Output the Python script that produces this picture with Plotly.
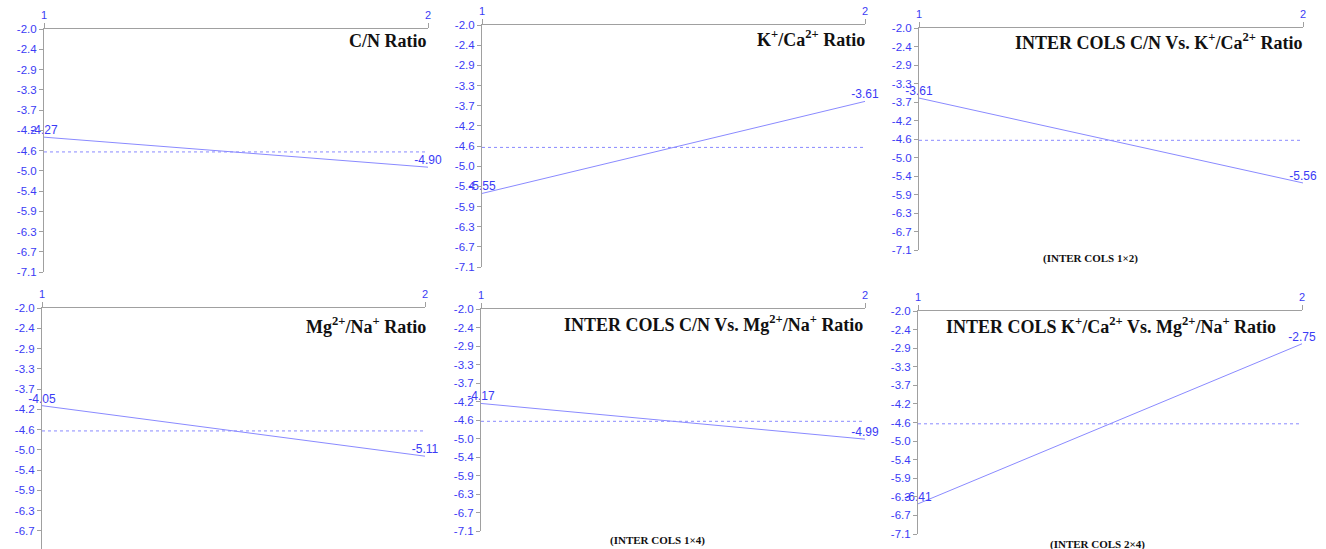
import numpy as np
import plotly.graph_objects as go

# ---------------- data ----------------
levels = [1, 2]
panel_titles = [
    "C/N Ratio",
    "K<sup>+</sup>/Ca<sup>2+</sup> Ratio",
    "INTER COLS C/N Vs. K<sup>+</sup>/Ca<sup>2+</sup> Ratio",
    "Mg<sup>2+</sup>/Na<sup>+</sup> Ratio",
    "INTER COLS C/N Vs. Mg<sup>2+</sup>/Na<sup>+</sup> Ratio",
    "INTER COLS K<sup>+</sup>/Ca<sup>2+</sup> Vs. Mg<sup>2+</sup>/Na<sup>+</sup> Ratio",
]
cn_ratio = [-4.27, -4.90]
k_ca_ratio = [-5.55, -3.61]
inter_1x2 = [-3.61, -5.56]
mg_na_ratio = [-4.05, -5.11]
inter_1x4 = [-4.17, -4.99]
inter_2x4 = [-6.41, -2.75]
series = [cn_ratio, k_ca_ratio, inter_1x2, mg_na_ratio, inter_1x4, inter_2x4]
grand_mean = -4.58
sub_labels = ["", "", "(INTER COLS 1×2)", "", "(INTER COLS 1×4)", "(INTER COLS 2×4)"]
y_tick_labels = ["-2.0", "-2.4", "-2.9", "-3.3", "-3.7", "-4.2", "-4.6",
                 "-5.0", "-5.4", "-5.9", "-6.3", "-6.7", "-7.1"]
y_top, y_bottom = -2.0, -7.1

# ---------------- layout (pixels) ----------------
W, H = 1326, 549
# left, right, top (y=-2.0), bottom (y=-7.1)
boxes = [
    (44, 428, 29, 272),
    (482, 865, 25, 267),
    (919, 1303, 28, 250),
    (42, 425, 308, 551),
    (481, 865, 309, 531),
    (918, 1302, 311, 534),
]
# title placement: (x px, y px, anchor)
title_pos = [
    (429, 41, "right"),
    (867, 39, "right"),
    (1304, 42, "right"),
    (428, 325, "right"),
    (865, 323, "right"),
    (1111, 325, "center"),
]
sub_pos = [None, None, (1090, 258), None, (657, 540), (1097, 544)]

BLUE_TXT = "#3b3bf5"
BLUE_LINE = "#8a8aff"
GRAY = "#a0a0a0"

tickvals = list(np.linspace(y_top, y_bottom, len(y_tick_labels)))

fig = go.Figure()
annotations = []
for i, (box, vals) in enumerate(zip(boxes, series)):
    l, r, t, b = box
    n = i + 1
    xa = "xaxis" if n == 1 else f"xaxis{n}"
    ya = "yaxis" if n == 1 else f"yaxis{n}"
    xr = "x" if n == 1 else f"x{n}"
    yr = "y" if n == 1 else f"y{n}"
    ppu = (b - t) / (y_top - y_bottom)
    b_clip = min(b, H)
    rng_bottom = y_top - (b_clip - t) / ppu
    fig.add_trace(go.Scatter(
        x=levels, y=[grand_mean, grand_mean], mode="lines",
        line=dict(color=BLUE_LINE, width=1, dash="dot"),
        xaxis=xr, yaxis=yr, showlegend=False, hoverinfo="skip"))
    fig.add_trace(go.Scatter(
        x=levels, y=vals, mode="lines+text",
        text=[f"{v:.2f}" for v in vals], textposition="top center",
        textfont=dict(family="Liberation Sans, Arial", size=12, color=BLUE_TXT),
        line=dict(color=BLUE_LINE, width=1), cliponaxis=False,
        xaxis=xr, yaxis=yr, showlegend=False))
    fig.layout[xa] = dict(
        domain=[l / W, r / W], range=[1, 2], side="top", anchor=yr,
        automargin=False,
        tickvals=levels, ticktext=[str(v) for v in levels],
        showline=True, linecolor=GRAY, linewidth=1, ticks="outside",
        ticklen=5, tickcolor=GRAY, showgrid=False, zeroline=False,
        tickfont=dict(family="Liberation Sans, Arial", size=11, color=BLUE_TXT))
    fig.layout[ya] = dict(
        domain=[1 - b_clip / H, 1 - t / H], range=[rng_bottom, y_top],
        anchor=xr, automargin=False, tickvals=tickvals, ticktext=y_tick_labels,
        showline=True, linecolor=GRAY, linewidth=1, ticks="outside",
        ticklen=4, tickcolor=GRAY, showgrid=False, zeroline=False,
        tickfont=dict(family="Liberation Sans, Arial", size=11.5, color=BLUE_TXT))
    tx, ty, anc = title_pos[i]
    annotations.append(dict(
        text="<b>" + panel_titles[i] + "</b>", xref="paper", yref="paper",
        x=tx / W, y=1 - ty / H, xanchor=anc, yanchor="middle", showarrow=False,
        font=dict(family="Liberation Serif, Times New Roman", size=18, color="#111111")))
    if sub_pos[i] is not None:
        sx, sy = sub_pos[i]
        annotations.append(dict(
            text="<b>" + sub_labels[i] + "</b>", xref="paper", yref="paper",
            x=sx / W, y=1 - sy / H, xanchor="center", yanchor="middle",
            showarrow=False,
            font=dict(family="Liberation Serif, Times New Roman", size=11, color="#111111")))

fig.update_layout(
    width=W, height=H, margin=dict(l=0, r=0, t=0, b=0),
    paper_bgcolor="white", plot_bgcolor="white",
    annotations=annotations, showlegend=False, hovermode=False)

fig.write_html(
    "out.html",
    config={"displayModeBar": False},
    post_script="document.body.style.margin='0';document.body.style.overflow='hidden';")
